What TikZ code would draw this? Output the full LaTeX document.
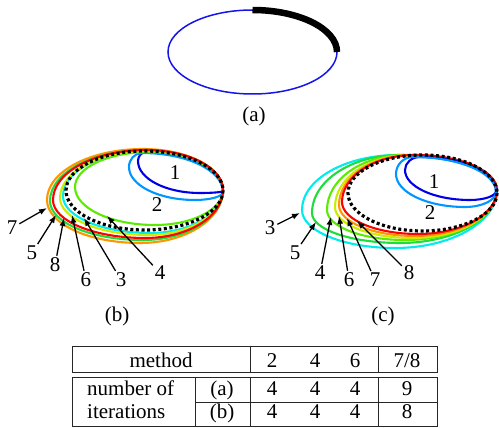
\documentclass[tikz,border=0pt]{standalone}
\usepackage{fontspec}
\setmainfont{Liberation Serif}
\usetikzlibrary{calc,arrows.meta}
\definecolor{c1}{RGB}{0,0,230}
\definecolor{c2}{RGB}{0,150,255}
\definecolor{c3}{RGB}{0,235,235}
\definecolor{c4}{RGB}{90,235,0}
\definecolor{c5}{RGB}{30,220,60}
\definecolor{c6}{RGB}{205,235,0}
\definecolor{c7}{RGB}{255,150,0}
\definecolor{c8}{RGB}{255,0,0}
\definecolor{topblue}{RGB}{20,20,235}
\newcommand\kk{0.5523}
\newcommand\fourpt[5]{%
  \coordinate (qR) at (#2);
  \coordinate (qT) at (#3);
  \coordinate (qL) at (#4);
  \coordinate (qB) at (#5);
  \draw[curve,#1] (qR)
   .. controls ($(qR)!\kk!(qR|-qT)$) and ($(qT)!\kk!(qR|-qT)$) .. (qT)
   .. controls ($(qT)!\kk!(qL|-qT)$) and ($(qL)!\kk!(qL|-qT)$) .. (qL)
   .. controls ($(qL)!\kk!(qL|-qB)$) and ($(qB)!\kk!(qL|-qB)$) .. (qB)
   .. controls ($(qB)!\kk!(qR|-qB)$) and ($(qR)!\kk!(qR|-qB)$) .. (qR) -- cycle;}
\begin{document}
\begin{tikzpicture}[x=1pt,y=-1pt,
  curve/.style={line width=2.1pt,line join=round},
  dotell/.style={black,line width=3.2pt,dash pattern=on 3pt off 2.6pt},
  arr/.style={-{Latex[length=8pt,width=6pt]},line width=1.3pt,shorten <=1pt},
  lbl/.style={font=\fontsize{21}{24}\selectfont,inner sep=1pt},
  ttxt/.style={font=\fontsize{21}{24}\selectfont,inner sep=0pt,anchor=base},
  tab/.style={line width=1pt,black!85}]
\useasboundingbox (0,0) rectangle (499,428);

% ---------- (a)
\draw[topblue,line width=1.5pt] (252.5,52) ellipse [x radius=84.5, y radius=42];
\draw[black,line width=6.5pt] (252.5,10) arc[start angle=-90,end angle=0,x radius=84.5,y radius=42];
\node[ttxt] (capa) at (254,122) {(a)};

% ---------- (b)
\fourpt{c1}{223,191}{146,152}{138,161}{200,193}
\fourpt{c2}{223,192}{142,153}{129,167}{195,200}
\fourpt{c4}{223,190}{150,152}{75,187}{155,225}
\fourpt{c3}{223,190}{148,151}{63,196}{150,233}
\fourpt{c6}{223,190}{148,151}{60,198}{148,235}
\fourpt{c7}{223,190}{143,149}{47,200}{140,243}
\fourpt{c5}{223,190}{145,150}{50,201}{143,240}
\fourpt{c8}{223,190}{146,150}{53,200}{145,238}
\draw[dotell] (144.5,190.5) ellipse [x radius=78.5, y radius=39.5];

\node[lbl] (b1) at (175,173) {1};
\node[lbl] (b2) at (157,205) {2};
\node[lbl] (b7) at (12,228) {7};
\node[lbl] (b5) at (32,253) {5};
\node[lbl] (b8) at (55,265) {8};
\node[lbl] (b6) at (86,280) {6};
\node[lbl] (b3) at (121,280) {3};
\node[lbl] (b4) at (160,273) {4};
\coordinate (tb7) at (47,208);
\coordinate (tb5) at (56,215);
\coordinate (tb8) at (64,218);
\coordinate (tb6) at (72,215);
\coordinate (tb3) at (84,218);
\coordinate (tb4) at (107,216);
\foreach \i in {7,5,8,6,3,4} \draw[arr] (b\i) -- (tb\i);
\node[ttxt] (capb) at (117,321) {(b)};

% ---------- (c)
\fourpt{c3}{497,190}{398,155}{302,210}{395,248}
\fourpt{c5}{497,190}{400,155}{312,213}{400,243}
\fourpt{c4}{497,190}{405,155}{327,210}{405,240}
\fourpt{c6}{497,190}{410,155}{335,207}{412,238}
\fourpt{c7}{497,190}{412,155}{339,205}{415,236}
\fourpt{c8}{497,190}{415,155}{342,202}{418,234}
\fourpt{c1}{496,191}{420,157}{405,170}{470,200}
\fourpt{c2}{496,192}{413,157}{396,174}{465,207}
\draw[dotell] (422.5,193) ellipse [x radius=74.5, y radius=38];

\node[lbl] (c1l) at (434,182) {1};
\node[lbl] (c2l) at (430,213) {2};
\node[lbl] (c3l) at (270,228) {3};
\node[lbl] (c5l) at (295,253) {5};
\node[lbl] (c4l) at (320,273) {4};
\node[lbl] (c6l) at (349,280) {6};
\node[lbl] (c7l) at (375,280) {7};
\node[lbl] (c8l) at (409,273) {8};
\coordinate (tc3) at (300,213);
\coordinate (tc5) at (316,222);
\coordinate (tc4) at (331,217);
\coordinate (tc6) at (339,216);
\coordinate (tc7) at (347,218);
\coordinate (tc8) at (357,221);
\foreach \i in {3,5,4,6,7,8} \draw[arr] (c\i l) -- (tc\i);
\node[ttxt] (capc) at (383,321) {(c)};

% ---------- table
\draw[tab] (72,346) rectangle (437,372);
\draw[tab] (72,377) rectangle (437,426);
\draw[tab] (250,346) -- (250,372) (378,346) -- (378,372);
\draw[tab] (195,377) -- (195,426) (250,377) -- (250,426) (378,377) -- (378,426);
\draw[tab] (195,402) -- (437,402);
\node[ttxt] (hm) at (161,367) {method};
\node[ttxt] (h2) at (272,367) {2};
\node[ttxt] (h4) at (315,367) {4};
\node[ttxt] (h6) at (355,367) {6};
\node[ttxt] (h78) at (407,367) {7/8};
\node[ttxt,anchor=base west] (rn) at (87,395) {number of};
\node[ttxt] (ra) at (222,395) {(a)};
\node[ttxt] (ra2) at (272,395) {4};
\node[ttxt] (ra4) at (315,395) {4};
\node[ttxt] (ra6) at (355,395) {4};
\node[ttxt] (ra8) at (407,395) {9};
\node[ttxt,anchor=base west] (ri) at (87,418) {iterations};
\node[ttxt] (rb) at (222,418) {(b)};
\node[ttxt] (rb2) at (272,418) {4};
\node[ttxt] (rb4) at (315,418) {4};
\node[ttxt] (rb6) at (355,418) {4};
\node[ttxt] (rb8) at (407,418) {8};
\end{tikzpicture}
\end{document}
